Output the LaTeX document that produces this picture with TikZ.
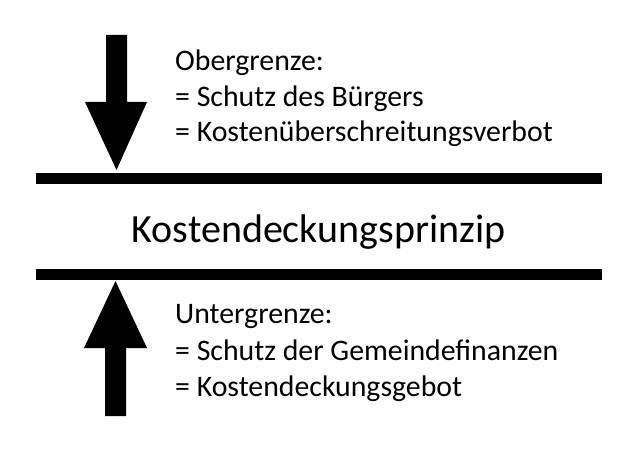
\documentclass[tikz,border=0pt]{standalone}
\usepackage{fontspec}
\setmainfont{Carlito}
\begin{document}
\begin{tikzpicture}[x=1pt,y=-1pt,
  lbl/.style={anchor=base west,inner sep=0pt,font=\fontsize{29.8}{32}\selectfont},
  title/.style={anchor=base,inner sep=0pt,font=\fontsize{40}{44}\selectfont},
  bar/.style={fill=black},
  arrowshape/.style={fill=black}]
\useasboundingbox (0,0) rectangle (637,457);
% bars
\fill[bar] (36,173) rectangle (602,184);
\fill[bar] (36,269) rectangle (602,280);
% top arrow (down)
\fill[arrowshape] (106,35) -- (127,35) -- (127,102) -- (147,102) -- (116.5,170) -- (85,102) -- (106,102) -- cycle;
% bottom arrow (up)
\fill[arrowshape] (105,416) -- (126,416) -- (126,348) -- (147,348) -- (115.5,281) -- (84,348) -- (105,348) -- cycle;
% center
\node[title] (main) at (318.5,242) {Kostendeckungsprinzip};
% top text
\node[lbl] (o1) at (175,71) {Obergrenze:};
\node[lbl] (o2) at (175,107) {= Schutz des Bürgers};
\node[lbl] (o3) at (175,142) {= Kostenüberschreitungsverbot};
% bottom text
\node[lbl] (u1) at (175,323) {Untergrenze:};
\node[lbl] (u2) at (175,360) {= Schutz der Gemeindefinanzen};
\node[lbl] (u3) at (175,396) {= Kostendeckungsgebot};
\end{tikzpicture}
\end{document}
